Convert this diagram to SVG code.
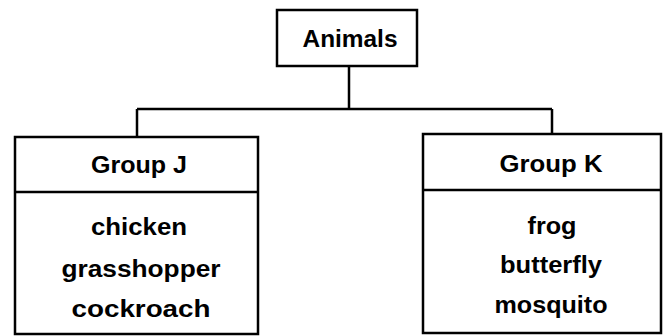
<svg xmlns="http://www.w3.org/2000/svg" width="668" height="336" viewBox="0 0 668 336">
<style>
.box{fill:#fff;stroke:#000;stroke-width:2.5}
.ln{fill:none;stroke:#000;stroke-width:2.5}
text{font-family:"Liberation Sans",Arial,sans-serif;font-size:23px;font-weight:bold;text-anchor:middle;fill:#000}
</style>
<rect width="668" height="336" fill="#fff"/>
<g id="connectors">
<path class="ln" d="M349 66 V109 M137 109 H552 M137 109 V137 M552 109 V134"/>
</g>
<g id="animals">
<rect class="box" x="277" y="10" width="140" height="56"/>
<text x="350" y="47" textLength="95" lengthAdjust="spacingAndGlyphs">Animals</text>
</g>
<g id="groupJ">
<rect class="box" x="15" y="137" width="243" height="197"/>
<line class="ln" x1="15" y1="192" x2="258" y2="192"/>
<text x="139" y="173" textLength="96" lengthAdjust="spacingAndGlyphs">Group J</text>
<text x="139" y="235" textLength="96" lengthAdjust="spacingAndGlyphs">chicken</text>
<text x="141" y="277" textLength="159" lengthAdjust="spacingAndGlyphs">grasshopper</text>
<text x="141" y="317" textLength="139" lengthAdjust="spacingAndGlyphs">cockroach</text>
</g>
<g id="groupK">
<rect class="box" x="423" y="134" width="238" height="199"/>
<line class="ln" x1="423" y1="190" x2="661" y2="190"/>
<text x="551" y="172" textLength="103" lengthAdjust="spacingAndGlyphs">Group K</text>
<text x="552" y="234" textLength="49" lengthAdjust="spacingAndGlyphs">frog</text>
<text x="551" y="273" textLength="102" lengthAdjust="spacingAndGlyphs">butterfly</text>
<text x="551" y="313" textLength="113" lengthAdjust="spacingAndGlyphs">mosquito</text>
</g>
</svg>
